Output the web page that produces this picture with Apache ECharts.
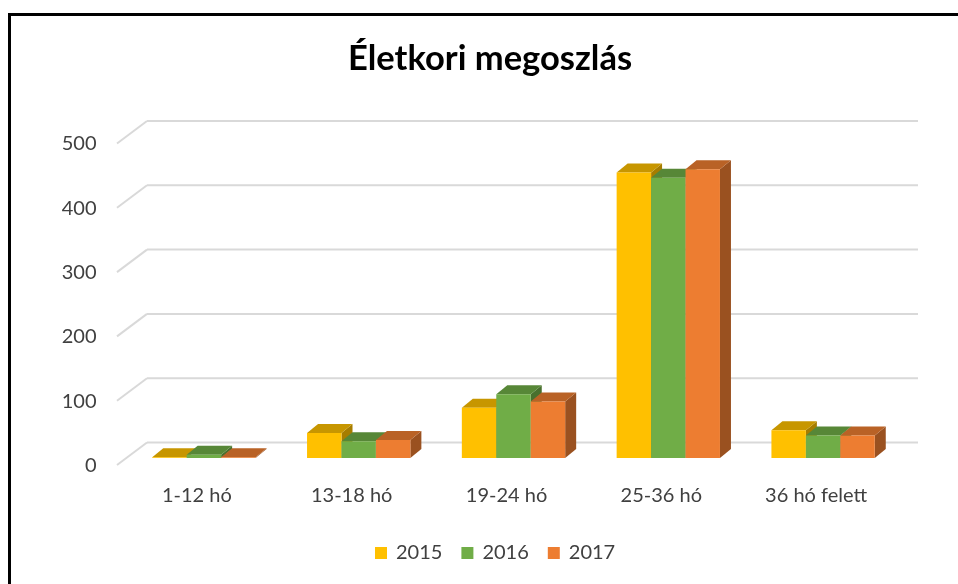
<!DOCTYPE html>
<html>
<head>
<meta charset="utf-8">
<script src="https://cdn.jsdelivr.net/npm/echarts@6/dist/echarts.min.js"></script>
<style>
  html, body { margin: 0; padding: 0; background: #fff; }
  #main { width: 958px; height: 584px; }
</style>
</head>
<body>
<div id="main"></div>
<script>
// adatok
var categories = ['1-12 hó', '13-18 hó', '19-24 hó', '25-36 hó', '36 hó felett'];
var years = ['2015', '2016', '2017'];
var v2015 = [1, 39, 78, 444, 43];
var v2016 = [5, 26, 99, 436, 35];
var v2017 = [1, 28, 88, 449, 35];
var yTicks = [0, 100, 200, 300, 400, 500];

var values = [v2015, v2016, v2017];
var colors = ['#FFC000', '#70AD47', '#ED7D31'];

function shade(hex, f) {
  var n = parseInt(hex.slice(1), 16);
  var r = Math.round(((n >> 16) & 255) * f);
  var g = Math.round(((n >> 8) & 255) * f);
  var b = Math.round((n & 255) * f);
  return 'rgb(' + r + ',' + g + ',' + b + ')';
}

// 3D melyseg (pixel)
var DX = 11, DY = -9;

function barRenderer(idx) {
  return function (params, api) {
    var cat = api.value(0);
    var base = api.coord([cat, 0]);
    var top = api.coord([cat, api.value(1)]);
    var bw = api.size([1, 0])[0] * 0.2225;
    var x0 = base[0] + (idx - 1.5) * bw;
    var x1 = x0 + bw;
    var yt = top[1], yb = base[1];
    var c = colors[idx];
    return {
      type: 'group',
      children: [
        { type: 'polygon', shape: { points: [[x1, yt], [x1 + DX, yt + DY], [x1 + DX, yb + DY], [x1, yb]] },
          style: { fill: shade(c, 0.65) } },
        { type: 'polygon', shape: { points: [[x0, yt], [x0 + DX, yt + DY], [x1 + DX, yt + DY], [x1, yt]] },
          style: { fill: shade(c, 0.78) } },
        { type: 'rect', shape: { x: x0, y: yt, width: bw, height: yb - yt },
          style: { fill: c } }
      ]
    };
  };
}

function wallRenderer(params, api) {
  var cs = params.coordSys;
  var p = api.coord([0, api.value(0)]);
  var y = p[1];
  var style = { stroke: '#D9D9D9', lineWidth: 2 };
  return {
    type: 'group',
    children: [
      { type: 'line', shape: { x1: cs.x - 9.5, y1: y + 7, x2: cs.x + 20.5, y2: y - 15.5 }, style: style },
      { type: 'line', shape: { x1: cs.x + 20.5, y1: y - 15.5, x2: cs.x + cs.width + 17.5, y2: y - 15.5 }, style: style }
    ]
  };
}

var series = [{
  type: 'custom',
  name: 'grid',
  silent: true,
  z: 1,
  renderItem: wallRenderer,
  encode: { y: 0 },
  data: yTicks.map(function (t) { return [t]; })
}];

years.forEach(function (y, i) {
  series.push({
    type: 'custom',
    name: y,
    z: 2 + i,
    itemStyle: { color: colors[i] },
    renderItem: barRenderer(i),
    encode: { x: 0, y: 1 },
    data: values[i].map(function (v, k) { return [k, v]; })
  });
});

var chart = echarts.init(document.getElementById('main'));
chart.setOption({
  animation: false,
  textStyle: { fontFamily: 'Lato' },
  title: {
    text: 'Életkori megoszlás',
    left: 343,
    top: 36,
    textStyle: { fontFamily: 'Lato', fontSize: 34.5, fontWeight: 'bold', color: '#000' }
  },
  legend: {
    left: 370,
    top: 538,
    icon: 'rect',
    itemWidth: 12,
    itemHeight: 12,
    itemGap: 19,
    data: years.map(function (y, i) { return { name: y, itemStyle: { color: colors[i] } }; }),
    textStyle: { fontFamily: 'Lato', fontSize: 20, color: '#404040', padding: [0, 0, 0, 4] }
  },
  grid: { left: 126.5, right: 57.5, top: 136.5, bottom: 126 },
  xAxis: {
    type: 'category',
    data: categories,
    axisLine: { show: false },
    axisTick: { show: false },
    axisLabel: { margin: 28, fontFamily: 'Lato', fontSize: 20, color: '#404040', padding: [0, 14, 0, 0] }
  },
  yAxis: {
    type: 'value',
    min: 0,
    max: 500,
    interval: 100,
    axisLine: { show: false },
    axisTick: { show: false },
    splitLine: { show: false },
    axisLabel: { margin: 30, fontFamily: 'Lato', fontSize: 20, color: '#404040', verticalAlign: 'top', lineHeight: 15 }
  },
  graphic: [{
    type: 'rect',
    silent: true,
    shape: { x: 9.5, y: 14.5, width: 1000, height: 700 },
    style: { fill: null, stroke: '#000', lineWidth: 3 }
  }],
  series: series
});
</script>
</body>
</html>
